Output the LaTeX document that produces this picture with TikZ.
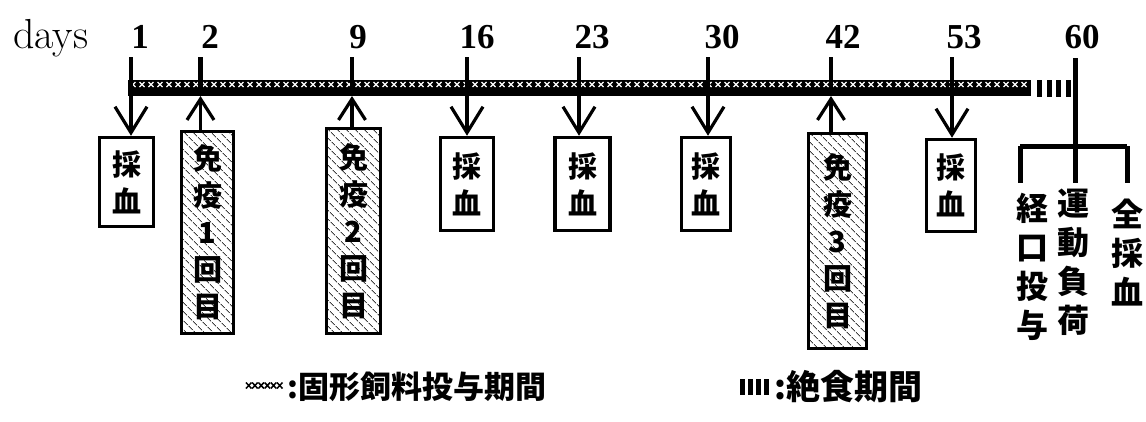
\documentclass[tikz,border=0pt]{standalone}
\usepackage{fontspec}
\newfontfamily\cjk{Noto Sans CJK JP}
\newfontfamily\numfont{Liberation Serif}
\usetikzlibrary{arrows.meta,patterns.meta}
\tikzset{
  sampbox/.style={draw, line width=3.5pt, inner sep=0pt, align=center,
    font=\cjk\bfseries\fontsize{29}{37}\selectfont},
  immbox/.style={sampbox, pattern={Lines[angle=-45,distance=6.5pt,line width=1pt]}, pattern color=black!75},
  downarr/.style={line width=3.2pt, -{Straight Barb[length=26pt,width=32pt,line width=3.2pt]}},
  uparr/.style={line width=3.2pt, -{Straight Barb[length=21pt,width=27pt,line width=3.2pt]}},
  tickline/.style={line width=4.5pt},
  daynum/.style={font=\numfont\bfseries\fontsize{35}{38}\selectfont, anchor=base, inner sep=0pt},
  vtext/.style={font=\cjk\bfseries\fontsize{32}{39}\selectfont, align=center, inner sep=0pt},
  legtext/.style={font=\cjk\bfseries\fontsize{31}{33}\selectfont, anchor=west, inner sep=0pt},
  brack/.style={line width=5pt}
}
\begin{document}
\begin{tikzpicture}[x=1pt,y=-1pt]
\useasboundingbox (0,0) rectangle (1146,421);

% labels
\node[anchor=base west, inner sep=0pt, font=\fontsize{42}{44}\selectfont] (days) at (13,48) {days};
\node[daynum] (n1) at (140,48) {1};
\node[daynum] (n2) at (210,48) {2};
\node[daynum] (n9) at (358,48) {9};
\node[daynum] (n16) at (477,48) {16};
\node[daynum] (n23) at (592,48) {23};
\node[daynum] (n30) at (722,48) {30};
\node[daynum] (n42) at (843,48) {42};
\node[daynum] (n53) at (964,48) {53};
\node[daynum] (n60) at (1082,48) {60};

% bar
\fill (128,80) rectangle (1031,96);
\foreach \i in {0,...,99} {
  \draw[white, line width=1.1pt] ({133+\i*9-2.5},82) -- ++(5,5) ({133+\i*9-2.5},87) -- ++(5,-5);
}
\foreach \x in {1037,1047,1056,1066} { \fill (\x,80) rectangle ++(4.5,17); }

% tick coordinates
\foreach \n/\x in {1/131,2/200.5,9/352,16/467,23/579,30/708,42/831,53/952} {
  \coordinate (h\n) at (\x,57);
  \coordinate (b\n) at (\x,96);
  \draw[tickline] (h\n) -- (\x,88);
}

% boxes
\node[sampbox, minimum width=54, minimum height=89] (s1) at (126.5,182) {採\\血};
\node[immbox, minimum width=52, minimum height=202] (m1) at (207.5,232.5) {免\\疫\\1\\回\\目};
\node[immbox, minimum width=54, minimum height=205] (m2) at (353.5,231) {免\\疫\\2\\回\\目};
\node[sampbox, minimum width=53, minimum height=93] (s16) at (467,184) {採\\血};
\node[sampbox, minimum width=55, minimum height=93] (s23) at (582.5,184) {採\\血};
\node[sampbox, minimum width=49, minimum height=93] (s30) at (706,184) {採\\血};
\node[immbox, minimum width=58, minimum height=215] (m3) at (837.5,241) {免\\疫\\3\\回\\目};
\node[sampbox, minimum width=49, minimum height=92] (s53) at (951,185.5) {採\\血};

% arrows
\draw[downarr] (b1) -- (s1.north -| b1);
\draw[uparr] (m1.north -| b2) -- (b2);
\draw[uparr] (m2.north -| b9) -- (b9);
\draw[downarr] (b16) -- (s16.north -| b16);
\draw[downarr] (b23) -- (s23.north -| b23);
\draw[downarr] (b30) -- (s30.north -| b30);
\draw[uparr] (m3.north -| b42) -- (b42);
\draw[downarr] (b53) -- (s53.north -| b53);

% day 60 bracket
\coordinate (h60) at (1075,58);
\coordinate (bm) at (1075,146);
\coordinate (bl) at (1020,146);
\coordinate (br) at (1127,146);
\node[vtext] (oral) at (1032,267) {経\\口\\投\\与};
\node[vtext] (exer) at (1073,262) {運\\動\\負\\荷};
\node[vtext] (blood) at (1127,253) {全\\採\\血};
\draw[brack] (h60) -- (bm);
\draw[brack] (bl) -- (br);
\draw[brack] (bl) -- ++(0,37);
\draw[brack] (br) -- ++(0,37);
\draw[brack] (bm) -- ++(0,37);

% legend
\foreach \i in {0,...,5} {
  \draw[line width=1.5pt] ({246+\i*6.2},382.5) -- ++(5.5,6) ({246+\i*6.2},388.5) -- ++(5.5,-6);
}
\node[legtext] (leg1) at (287,387) {:固形飼料投与期間};
\foreach \x in {740,748,756,764} { \fill (\x,379) rectangle ++(5,16); }
\node[legtext, font=\cjk\bfseries\fontsize{34}{36}\selectfont] (leg2) at (774,387) {:絶食期間};
\end{tikzpicture}
\end{document}
